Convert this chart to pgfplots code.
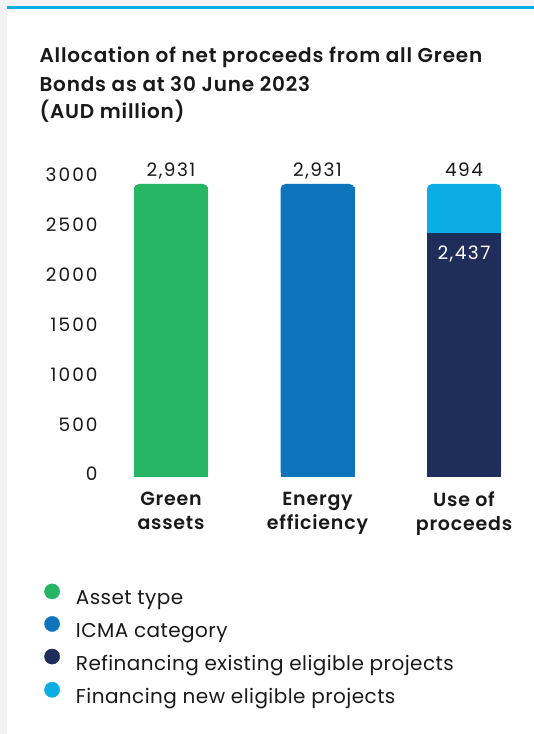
\documentclass[border=0pt]{standalone}
\usepackage{pgfplots}
\pgfplotsset{compat=1.18}
\usepackage{fontspec}
\setmainfont{Poppins}[LetterSpace=2.2]
\newfontfamily\numfont{Poppins}[LetterSpace=11]
\newfontfamily\valnumfont{Poppins}[LetterSpace=8]
\newfontfamily\titlefont{Poppins SemiBold}[LetterSpace=4.1]
\definecolor{cgreen}{RGB}{38,181,99}
\definecolor{cblue}{RGB}{14,116,187}
\definecolor{cnavy}{RGB}{30,45,90}
\definecolor{ccyan}{RGB}{10,174,229}
\definecolor{ctext}{RGB}{25,25,25}
\definecolor{cborder}{RGB}{243,243,243}
\pgfplotsset{
  dotlegend/.style={legend image code/.code={\fill (7.6pt,7pt) circle (7.6pt);}},
}
\tikzset{valfont/.style={font=\fontsize{18.5}{22}\selectfont\valnumfont}}
\begin{document}
\begin{tikzpicture}[x=1pt,y=1pt]
\useasboundingbox (0,0) rectangle (534,734);
\fill[cborder] (0,0) rectangle (534,734);
\fill[white] (7,0) rectangle (534,725);
\fill[ccyan] (7,725) rectangle (534,728);
\node[anchor=base west, inner sep=0pt, font=\fontsize{20}{28}\selectfont\titlefont, text=ctext] at (39.3,671.7) {Allocation of net proceeds from all Green};
\node[anchor=base west, inner sep=0pt, font=\fontsize{20}{28}\selectfont\titlefont, text=ctext] at (39.3,642.3) {Bonds as at 30 June 2023};
\node[anchor=base west, inner sep=0pt, font=\fontsize{20}{28}\selectfont\titlefont, text=ctext] at (39.3,615) {(AUD million)};
\begin{axis}[
  at={(97.75pt,257.3pt)}, anchor=south west,
  scale only axis, width=439.5pt, height=299.6pt,
  xmin=-0.5, xmax=2.5, ymin=0, ymax=3000,
  axis line style={draw=none}, major tick length=0pt,
  xtick={0,1,2},
  xticklabels={{Green\\assets},{Energy\\efficiency},{Use of\\proceeds}},
  xticklabel style={align=center, font=\fontsize{19}{24}\selectfont\titlefont, text=ctext, anchor=north, inner sep=0pt, yshift=-15pt},
  ytick={0,500,1000,1500,2000,2500,3000},
  yticklabel style={anchor=east, inner sep=0pt, yshift=2.5pt, text=ctext, font=\fontsize{18.5}{22}\selectfont\numfont},
  /pgf/number format/.cd, 1000 sep={}, assume math mode=true, /pgfplots/.cd,
  legend style={at={(-0.1216,-0.357)}, anchor=north west, draw=none, fill=none,
    inner sep=0pt, outer sep=0pt, row sep=10pt, font=\fontsize{20}{24}\selectfont,
    text=ctext, nodes={inner sep=0pt}, /tikz/column 1/.style={column sep=16pt}},
  legend cell align=left,
]
% Green assets
\addplot[ybar, bar width=74pt, bar shift=0pt, fill=cgreen, draw=none, forget plot] coordinates {(0,2900)};
\addplot[ybar, bar width=74pt, bar shift=0pt, fill=cgreen, draw=none, rounded corners=5pt, forget plot,
  point meta=explicit, nodes near coords={\pgfmathprintnumber[1000 sep={,}]{\pgfplotspointmeta}},
  nodes near coords style={anchor=base, inner sep=0pt, yshift=7pt, valfont, text=ctext}]
  coordinates {(0,2931) [2931]};
% Energy efficiency
\addplot[ybar, bar width=74pt, bar shift=0pt, fill=cblue, draw=none, forget plot] coordinates {(1,2900)};
\addplot[ybar, bar width=74pt, bar shift=0pt, fill=cblue, draw=none, rounded corners=5pt, forget plot,
  point meta=explicit, nodes near coords={\pgfmathprintnumber[1000 sep={,}]{\pgfplotspointmeta}},
  nodes near coords style={anchor=base, inner sep=0pt, yshift=7pt, valfont, text=ctext}]
  coordinates {(1,2931) [2931]};
% Use of proceeds: financing new (494) on top of refinancing (2437); top at 2437+494
\addplot[ybar, bar width=74pt, bar shift=0pt, fill=ccyan, draw=none, rounded corners=5pt, forget plot,
  point meta=explicit, nodes near coords={\pgfmathprintnumber[1000 sep={,}]{\pgfplotspointmeta}},
  nodes near coords style={anchor=base, inner sep=0pt, yshift=7pt, valfont, text=ctext}]
  coordinates {(2,2931) [494]};
\addplot[ybar, bar width=74pt, bar shift=0pt, fill=cnavy, draw=none, forget plot,
  point meta=explicit, nodes near coords={\pgfmathprintnumber[1000 sep={,}]{\pgfplotspointmeta}},
  nodes near coords style={anchor=base, inner sep=0pt, yshift=-25.7pt, valfont, text=white}]
  coordinates {(2,2437) [2437]};
\addlegendimage{dotlegend, cgreen}
\addlegendentry{Asset type}
\addlegendimage{dotlegend, cblue}
\addlegendentry{ICMA category}
\addlegendimage{dotlegend, cnavy}
\addlegendentry{Refinancing existing eligible projects}
\addlegendimage{dotlegend, ccyan}
\addlegendentry{Financing new eligible projects}
\end{axis}
\end{tikzpicture}
\end{document}
